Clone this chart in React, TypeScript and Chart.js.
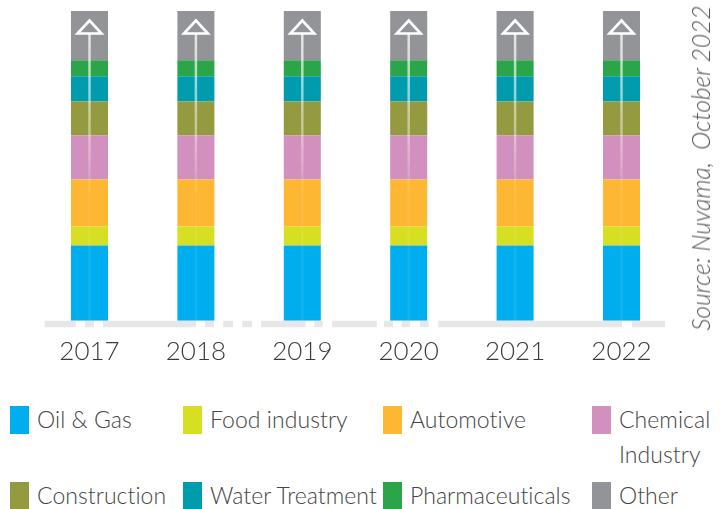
import React, { useEffect, useRef } from "react";
import { Chart, registerables } from "chart.js";

Chart.register(...registerables);

// ---- data ----
const years = ["2017", "2018", "2019", "2020", "2021", "2022"];
const oilGas = [24.3, 24.3, 24.3, 24.3, 24.3, 24.3];
const foodIndustry = [6.1, 6.1, 6.1, 6.1, 6.1, 6.1];
const automotive = [15.2, 15.2, 15.2, 15.2, 15.2, 15.2];
const chemicalIndustry = [14.2, 14.2, 14.2, 14.2, 14.2, 14.2];
const construction = [11.0, 11.0, 11.0, 11.0, 11.0, 11.0];
const waterTreatment = [8.1, 8.1, 8.1, 8.1, 8.1, 8.1];
const pharmaceuticals = [5.2, 5.2, 5.2, 5.2, 5.2, 5.2];
const other = [15.9, 15.9, 15.9, 15.9, 15.9, 15.9];

const seriesLabels = [
  "Oil & Gas",
  "Food industry",
  "Automotive",
  "Chemical Industry",
  "Construction",
  "Water Treatment",
  "Pharmaceuticals",
  "Other",
];
const seriesValues = [
  oilGas,
  foodIndustry,
  automotive,
  chemicalIndustry,
  construction,
  waterTreatment,
  pharmaceuticals,
  other,
];
const seriesColors = [
  "#00AEEF",
  "#D7DF23",
  "#FDB733",
  "#D190BD",
  "#939A3F",
  "#009BAC",
  "#2BA44A",
  "#939497",
];
const sourceText = "Source: Nuvama,  October 2022";

// legend layout order (row-major, 4 columns)
const legendOrder = [0, 1, 2, 3, 4, 5, 6, 7];

const FONT = "Lato, 'Open Sans', sans-serif";

const decorPlugin = {
  id: "decor",
  beforeDatasetsDraw(chart: any) {
    const { ctx, chartArea } = chart;
    ctx.save();
    ctx.strokeStyle = "#E6E7E8";
    ctx.lineWidth = 6.5;
    ctx.lineCap = "butt";
    ctx.setLineDash([
      0, 8.4, 31, 9.3, 9, 9, 93, 9, 9, 9.3, 9.7, 9.3, 9.7, 9, 44.7, 8.6, 8.4,
      9.6, 44.4, 7.3, 9, 8.7, 8.6, 9.7, 8.7, 9.6, 183.7, 10, 33, 200,
    ]);
    ctx.beginPath();
    const y = chartArea.bottom + 3.3;
    ctx.moveTo(chartArea.left, y);
    ctx.lineTo(chartArea.right, y);
    ctx.stroke();
    ctx.restore();
  },
  afterDatasetsDraw(chart: any) {
    const { ctx, chartArea } = chart;
    const topMeta = chart.getDatasetMeta(chart.data.datasets.length - 1);
    ctx.save();
    topMeta.data.forEach((bar: any) => {
      const x = bar.x;
      const top = bar.y;
      const apex = top + 9.5;
      const base = top + 22.5;
      const fadeEnd = top + 184;
      // faint long line
      ctx.strokeStyle = "rgba(255,255,255,0.07)";
      ctx.lineWidth = 2.5;
      ctx.beginPath();
      ctx.moveTo(x, base);
      ctx.lineTo(x, chartArea.bottom);
      ctx.stroke();
      // bright fading shaft
      const g = ctx.createLinearGradient(0, base, 0, fadeEnd);
      g.addColorStop(0, "rgba(255,255,255,0.75)");
      g.addColorStop(0.6, "rgba(255,255,255,0.4)");
      g.addColorStop(1, "rgba(255,255,255,0)");
      ctx.strokeStyle = g;
      ctx.lineWidth = 2.5;
      ctx.beginPath();
      ctx.moveTo(x, base);
      ctx.lineTo(x, fadeEnd);
      ctx.stroke();
      // triangle head
      ctx.strokeStyle = "#FFFFFF";
      ctx.lineWidth = 2.6;
      ctx.lineJoin = "miter";
      ctx.beginPath();
      ctx.moveTo(x, apex);
      ctx.lineTo(x + 12, base);
      ctx.lineTo(x - 12, base);
      ctx.closePath();
      ctx.stroke();
    });
    ctx.restore();
  },
};

export default function App() {
  const canvasRef = useRef<HTMLCanvasElement | null>(null);

  useEffect(() => {
    if (!canvasRef.current) return;
    const chart = new Chart(canvasRef.current, {
      type: "bar",
      data: {
        labels: years,
        datasets: seriesLabels.map((label, i) => ({
          label,
          data: seriesValues[i],
          backgroundColor: seriesColors[i],
          borderWidth: 0,
          barPercentage: 0.348,
          categoryPercentage: 1,
        })),
      },
      options: {
        responsive: false,
        maintainAspectRatio: false,
        animation: false,
        layout: { padding: { left: 36.3, right: 53.3, top: 11, bottom: 0 } },
        plugins: {
          legend: { display: false },
          tooltip: { enabled: false },
        },
        scales: {
          x: {
            stacked: true,
            grid: { display: false, drawTicks: false },
            border: { display: false },
            ticks: {
              padding: 15,
              color: "#3A3A3A",
              font: { family: FONT, size: 26, weight: "300" as any },
            },
          },
          y: {
            stacked: true,
            display: false,
            min: 0,
            max: 100,
          },
        },
      },
      plugins: [decorPlugin],
    });
    return () => chart.destroy();
  }, []);

  return (
    <div
      style={{
        position: "absolute",
        left: 0,
        top: 0,
        width: 728,
        height: 509,
        overflow: "hidden",
        background: "#FFFFFF",
        fontFamily: FONT,
      }}
    >
      <canvas
        ref={canvasRef}
        width={728}
        height={382}
        style={{ position: "absolute", left: 0, top: 0, width: 728, height: 382 }}
      />
      <div
        style={{
          position: "absolute",
          left: 701,
          top: 167.5,
          width: 0,
          height: 0,
        }}
      >
        <div
          style={{
            position: "absolute",
            left: 0,
            top: 0,
            transform: "translate(-50%, -50%) rotate(-90deg)",
            whiteSpace: "pre",
            fontStyle: "italic",
            fontWeight: 300,
            fontSize: 24.5,
            color: "#555555",
            lineHeight: "28px",
          }}
        >
          {sourceText}
        </div>
      </div>
      <div
        style={{
          position: "absolute",
          left: 10,
          top: 401.5,
          display: "grid",
          gridTemplateColumns: "173px 200px 209px 136px",
          rowGap: 6,
        }}
      >
        {legendOrder.map((i) => (
          <div key={i} style={{ display: "flex", alignItems: "flex-start" }}>
            <div
              style={{
                width: 19,
                height: 28.5,
                marginTop: 4,
                marginRight: 8,
                flex: "0 0 auto",
                background: seriesColors[i],
              }}
            />
            <div
              style={{
                fontSize: 23,
                fontWeight: 300,
                letterSpacing: 0.05,
                lineHeight: "35px",
                color: "#444444",
                whiteSpace: "nowrap",
                maxWidth: i === 3 ? 100 : undefined,
                ...(i === 3 ? { whiteSpace: "normal" } : {}),
              }}
            >
              {seriesLabels[i]}
            </div>
          </div>
        ))}
      </div>
    </div>
  );
}
